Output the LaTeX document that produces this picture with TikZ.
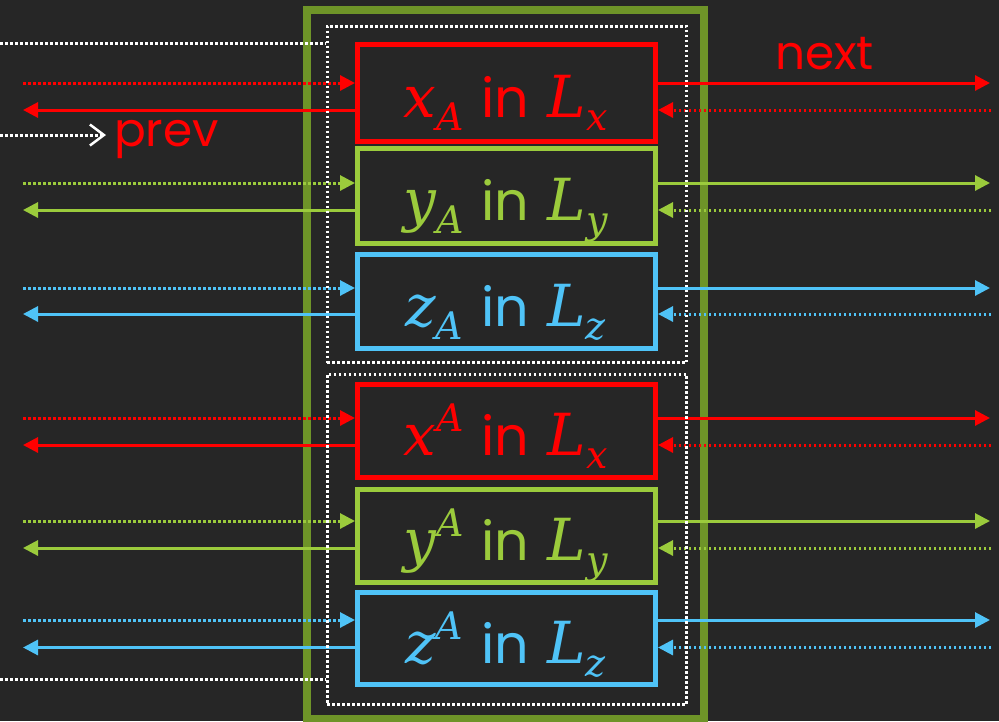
\documentclass[tikz,border=0pt]{standalone}
\usepackage{fontspec}
\setmainfont{Poppins}
\newfontfamily\mif{DejaVu Serif}
\usetikzlibrary{arrows.meta}
\definecolor{bg}{HTML}{262626}
\definecolor{cr}{HTML}{FF0000}
\definecolor{cg}{HTML}{9BCB3C}
\definecolor{cb}{HTML}{4FC3F7}
\definecolor{olv}{HTML}{6E9428}
\newcommand\mv[1]{{\fontsize{58}{58}\selectfont\mif\itshape #1}}
\newcommand\subx[1]{\raisebox{-13pt}{\fontsize{38}{38}\selectfont\mif\itshape #1}}
\newcommand\upx[1]{\raisebox{24pt}{\fontsize{38}{38}\selectfont\mif\itshape #1}}
\newcommand\inw{\hspace{18pt}{\fontsize{54}{54}\selectfont in}\hspace{18pt}}
\tikzset{
  tri/.tip={Triangle[length=15pt,width=15pt]},
  rowbox/.style={draw=#1, line width=5pt, fill=bg, minimum width=298pt, inner sep=0pt},
  rowlbl/.style={text=#1, inner sep=0pt, anchor=base},
  solidarrow/.style={draw=#1, line width=3pt, -tri},
  dotarrow/.style={draw=#1, line width=3pt, dash pattern=on 2.5pt off 2.5pt, -tri},
  wdot/.style={draw=white, line width=3pt, dash pattern=on 2.5pt off 2.5pt},
  groupbox/.style={wdot, minimum width=359.5pt, inner sep=0pt},
  outerbox/.style={draw=olv, line width=8pt, minimum width=397pt, minimum height=709.5pt, inner sep=0pt},
  lbl/.style={text=cr, font=\fontsize{47}{47}\selectfont}
}
\begin{document}
\begin{tikzpicture}[x=1pt,y=-1pt]
\fill[bg] (0,0) rectangle (999,721);
\useasboundingbox (0,0) rectangle (999,721);
\node[outerbox] (outer) at (505.5,364.25) {};
% rows
\foreach \n/\c/\t/\b/\u/\l/\txt in {
 1/cr/44/141/83/110/{\mv{x}\subx{A}\inw\mv{L}\subx{x}},
 2/cg/148/243.5/183/210/{\mv{y}\subx{A}\inw\mv{L}\subx{y}},
 3/cb/254/348/288/314/{\mv{z}\subx{A}\inw\mv{L}\subx{z}},
 4/cr/384/477/418/445/{\mv{x}\upx{A}\inw\mv{L}\subx{x}},
 5/cg/489/582/521/548/{\mv{y}\upx{A}\inw\mv{L}\subx{y}},
 6/cb/592.5/684.5/620/647.5/{\mv{z}\upx{A}\inw\mv{L}\subx{z}}}{
  \pgfmathsetmacro\m{(\t+\b)/2}
  \pgfmathsetmacro\h{\b-\t}
  \node[rowbox=\c, minimum height=\h pt] (b\n) at (506.5,\m) {};
  \node[rowlbl=\c] (t\n) at (505.5,\m+25) {\txt};
  \coordinate (li\n) at (23,\u);
  \coordinate (lo\n) at (23,\l);
  \coordinate (ro\n) at (990,\u);
  \coordinate (ri\n) at (991,\l);
  \draw[dotarrow=\c] (li\n) -- (b\n.west |- li\n);
  \draw[solidarrow=\c] (b\n.west |- lo\n) -- (lo\n);
  \draw[solidarrow=\c] (b\n.east |- ro\n) -- (ro\n);
  \draw[dotarrow=\c] (ri\n) -- (b\n.east |- ri\n);
}
% group boxes
\node[groupbox, minimum height=336.5pt] (g1) at (506.75,194.25) {};
\node[groupbox, minimum height=330pt] (g2) at (506.75,539) {};
\coordinate (w1) at (0,43.3);
\coordinate (w2) at (0,679);
\draw[wdot] (w1) -- (g1.west |- w1);
\draw[wdot] (w2) -- (g2.west |- w2);
% labels
\node[lbl, anchor=base west, inner xsep=8pt, inner ysep=0pt] (prev) at (106,146) {prev};
\coordinate (p0) at (0,135);
\draw[wdot, -{Straight Barb[length=14pt,width=21pt,line width=2.5pt]}] (p0) -- (p0 -| prev.west);
\node[lbl, anchor=base, inner sep=0pt] (next) at (824.5,69) {next};
\end{tikzpicture}
\end{document}
